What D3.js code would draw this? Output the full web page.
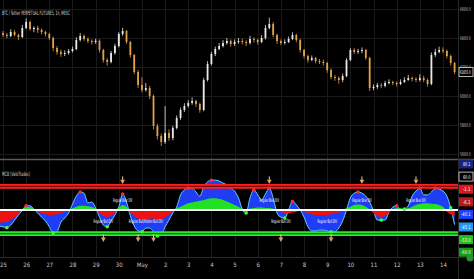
<!DOCTYPE html>
<html><head><meta charset="utf-8">
<script src="https://cdn.jsdelivr.net/npm/d3@7"></script>
<style>html,body{margin:0;padding:0;background:#000;overflow:hidden}svg{display:block}</style>
</head><body><svg id="c" width="474" height="279"></svg>
<script>
// ---------------- DATA ----------------
const title = "BTC / Tether PERPETUAL FUTURES, 1h, MEXC";
const indicatorName = "MCB (VeloTrades)";
const dayLabels = ["25","26","27","28","29","30","May","2","3","4","5","6","7","8","9","10","11","12","13","14"];
const priceTicks = [56000,58000,60000,62000,64000,66000];
const candleStart = Date.UTC(2024,3,24,20);
const candleHours = 4;
const firstOpen = 64300;
const closes = [64345,64207,64138,64414,64207,64069,64690,65103,64621,64700,
64552,64414,64276,64000,63310,63034,62896,62965,63103,63241,
63862,64138,63931,63793,63724,63800,63172,62483,62345,62965,
63448,64276,64483,63724,62828,61655,60759,60414,60552,60000,
57931,57241,56828,57448,57103,57793,58483,59034,59310,59517,
59655,59448,59034,61103,62207,62896,63241,63448,63655,63793,
63586,63724,63793,63724,63655,63931,63862,63724,64000,64690,
64966,64207,63793,63655,63724,63931,64207,63862,63172,62759,
62483,62621,62414,62345,62276,61793,61310,61241,61103,61379,
62483,63172,63034,63100,63172,62621,60552,60621,60759,60700,
60897,60966,60897,60828,60966,61103,61241,61172,61103,61241,
61103,60828,62828,63034,63172,63103,62759,62276,61655];
const highs = [64520,64480,64350,64600,64550,64300,64900,65350,65200,64800,
64850,64650,64500,64350,64100,63450,63200,63150,63250,63400,
64050,64350,64250,64050,63900,63950,63900,63250,62600,63100,
63600,64400,64700,64550,63800,62900,61800,61300,60900,60700,
60100,58100,57400,59300,57700,57950,58650,59200,59500,59700,
59900,59750,59550,61250,62400,63050,63400,63650,63850,64000,
63900,63900,64000,63950,63850,64150,64050,63950,64200,64900,
65400,65100,64300,63900,63900,64100,64400,64300,63950,63250,
62850,62800,62700,62550,62500,62350,61900,61450,61350,61550,
62600,63300,63300,63250,63350,63250,62700,60800,60900,60900,
61050,61150,61050,61000,61150,61300,61450,61350,61300,61500,
61400,61200,63000,63250,63400,63350,63200,62850,62350];
const lows = [64150,64050,63980,64050,64100,63850,64000,64600,64500,64400,
64350,64250,64100,63850,63100,62850,62700,62750,62850,63000,
63150,63750,63800,63650,63550,63600,63000,62300,62100,62250,
62850,63350,64150,63600,62650,61500,60550,60250,60300,59800,
57700,57000,56550,56700,56900,56950,57700,58350,58900,59200,
59400,59250,58850,58950,61000,62100,62750,63150,63350,63550,
63400,63450,63600,63550,63450,63550,63700,63550,63650,63900,
64600,64050,63600,63500,63550,63650,63850,63700,63000,62600,
62300,62400,62250,62200,62100,61600,61150,61050,60850,60950,
61300,62400,62900,62900,62950,62500,60350,60400,60500,60550,
60600,60800,60750,60650,60750,60900,61050,61000,60950,61000,
60950,60650,60750,62700,62950,62950,62600,62100,61500];
const wave = [-38,-40,-42,-36,-24,-12,-1,10,10,2,
-7,-17,-26,-40,-55,-52,-29,-19,-7,14,
33,43,40,17,19,5,-17,-36,-40,-26,
-12,7,38,19,-14,-38,-50,-52,-43,-43,
-52,-62,-60,-40,-24,-7,7,36,48,52,
52,43,33,55,67,71,71,69,64,60,
52,45,29,2,-7,29,48,36,24,38,
52,29,-7,-17,-19,0,21,12,0,-17,
-40,-50,-50,-48,-48,-50,-52,-52,-43,-26,
0,29,40,43,40,33,19,-2,-24,-24,
-24,-5,7,10,0,2,10,33,45,52,
36,36,43,52,50,45,33,5,-35];
const moneyFlow = [-30,-30,-28,-24,-18,-10,3,7,7,3,
-4,-8,-10,-12,-12,-10,-8,-4,-1,4,
8,10,10,9,7,3,-8,-14,-16,-14,
-6,6,12,8,-6,-14,-20,-22,-22,-20,
-20,-22,-22,-18,-12,-4,4,8,12,16,
18,20,22,24,26,28,28,26,24,20,
16,12,8,3,-3,3,5,6,6,5,
5,3,1,-4,-8,-8,-6,-4,-2,-4,
-8,-10,-12,-12,-12,-12,-10,-8,-6,-2,
4,8,12,13,12,8,2,-8,-14,-16,
-14,-6,2,4,4,3,4,8,12,14,
16,16,15,14,12,8,-4,-10,-14];
const redDots = [7,21,32,49,55,66,70,76,93,103,109,113];
const greenDots = [2,14,28,37,41,64,74,86,99,105,117];
const bearDivs = [32,70,94,108];
const bullDivs = [27,36,40,73,86];
const divLabels = [
  {i:32, kind:"bear", text:"Regular Bear DIV"},
  {i:27, kind:"bull", text:"Regular Bull DIV"},
  {i:38, kind:"bull", text:"Regular Bull/Hidden Bull DIV"},
  {i:70, kind:"bear", text:"Regular Bear DIV"},
  {i:73, kind:"bull", text:"Regular Bull DIV"},
  {i:85, kind:"bull", text:"Regular Bull DIV"},
  {i:94, kind:"bear", text:"Regular Bear DIV"},
  {i:108, kind:"bear", text:"Regular Bear DIV"}
];
const obLevels = [60,53];
const osLevels = [-53,-60];
const tagTexts = ["80.1","60.0","-1.1","-6.1","-40.1","-45.1","-53.0","-60.0"];
const tagColors = ["#1a237e","#000000","#d81b1b","#b71c1c","#1e40ff","#2196f3","#1fbf1f","#169c16"];

// ---------------- CHART ----------------
const svg = d3.select("#c");
const W = 474, H = 279, axisX = 458;
const indTop = 161, indBottom = 257;
const FONT = "'DejaVu Sans Condensed','Liberation Sans',sans-serif";

// squeeze a text horizontally to a target width using a transform
function squeeze(node, target, anchor){
  const len = node.getComputedTextLength();
  const s = Math.min(1, target/len);
  const x0 = +(node.getAttribute("x")||0), y0 = +(node.getAttribute("y")||0);
  node.setAttribute("x",0); node.setAttribute("y",0);
  node.setAttribute("text-anchor", anchor||"start");
  node.setAttribute("transform",`translate(${x0},${y0}) scale(${s},1)`);
}

svg.append("rect").attr("width",W).attr("height",H).attr("fill","#000");

const x = d3.scaleUtc()
  .domain([new Date(Date.UTC(2024,3,25)), new Date(Date.UTC(2024,4,14))])
  .range([3,443]);
const yP = d3.scaleLinear().domain([56000,66000]).range([154,9]);
const yI = d3.scaleLinear().domain([-60,60]).range([235.2,184.8]);
const tOf = i => new Date(candleStart + i*candleHours*3600e3);
const xi = i => x(tOf(i));

const defs = svg.append("defs");
defs.append("clipPath").attr("id","cm").append("rect").attr("x",0).attr("y",0).attr("width",axisX).attr("height",159);
defs.append("clipPath").attr("id","ci").append("rect").attr("x",0).attr("y",indTop).attr("width",axisX).attr("height",indBottom-indTop);

const days = d3.utcDay.range(x.domain()[0], d3.utcDay.offset(x.domain()[1],1));

// grid
const grid = svg.append("g").attr("stroke","#1a1a1a").attr("stroke-width",1);
grid.selectAll(".vg").data(days).join("line")
  .attr("x1",d=>Math.round(x(d))+0.5).attr("x2",d=>Math.round(x(d))+0.5)
  .attr("y1",0).attr("y2",indBottom);
grid.selectAll(".hg").data(priceTicks).join("line")
  .attr("x1",0).attr("x2",axisX).attr("y1",d=>Math.round(yP(d))+0.5).attr("y2",d=>Math.round(yP(d))+0.5);

// candles
const candles = closes.map((c,i)=>({i, o: i ? closes[i-1] : firstOpen, h: highs[i], l: lows[i], c}));
const gc = svg.append("g").attr("clip-path","url(#cm)");
const upC = "#e8e8e8", dnC = "#e3a047";
gc.selectAll(".wick").data(candles).join("line")
  .attr("x1",d=>xi(d.i)).attr("x2",d=>xi(d.i))
  .attr("y1",d=>yP(d.h)).attr("y2",d=>yP(d.l))
  .attr("stroke",d=>d.c>=d.o?upC:dnC).attr("stroke-width",0.8);
gc.selectAll(".body").data(candles).join("rect")
  .attr("x",d=>xi(d.i)-0.9).attr("width",1.8)
  .attr("y",d=>yP(Math.max(d.o,d.c)))
  .attr("height",d=>Math.max(0.8, Math.abs(yP(d.o)-yP(d.c))))
  .attr("fill",d=>d.c>=d.o?upC:dnC);

// title
svg.append("text").attr("x",2).attr("y",15).text(title)
  .attr("fill","#d0d0d0").attr("font-family",FONT).attr("font-size",6)
  .each(function(){ squeeze(this, 68); });

// separators
svg.append("line").attr("x1",0).attr("x2",W).attr("y1",159.5).attr("y2",159.5).attr("stroke","#5a5a5a").attr("stroke-width",1.5);
svg.append("line").attr("x1",0).attr("x2",W).attr("y1",indBottom+0.5).attr("y2",indBottom+0.5).attr("stroke","#2a2a2a");
svg.append("line").attr("x1",axisX+0.5).attr("x2",axisX+0.5).attr("y1",0).attr("y2",H).attr("stroke","#2a2a2a");

// indicator
const gi = svg.append("g").attr("clip-path","url(#ci)");
const idx = d3.range(wave.length);
const waveArea = d3.area().curve(d3.curveMonotoneX).x(i=>xi(i)).y0(yI(0)).y1(i=>yI(wave[i]));
gi.append("path").datum(idx).attr("d",waveArea).attr("fill","#1f3df5");
gi.append("path").datum(idx)
  .attr("d",d3.line().curve(d3.curveMonotoneX).x(i=>xi(i)).y(i=>yI(wave[i])))
  .attr("fill","none").attr("stroke","#5fd3ff").attr("stroke-width",1);
const mfPos = d3.area().curve(d3.curveMonotoneX).x(i=>xi(i)).y0(yI(0)).y1(i=>yI(Math.max(0,moneyFlow[i])));
const mfNeg = d3.area().curve(d3.curveMonotoneX).x(i=>xi(i)).y0(yI(0)).y1(i=>yI(Math.min(0,moneyFlow[i])));
gi.append("path").datum(idx).attr("d",mfPos).attr("fill","#22e022");
gi.append("path").datum(idx).attr("d",mfNeg).attr("fill","#ee1111");

// levels
gi.append("rect").attr("x",0).attr("width",axisX).attr("y",yI(obLevels[0])).attr("height",yI(obLevels[1])-yI(obLevels[0])).attr("fill","#5a0000");
gi.append("rect").attr("x",0).attr("width",axisX).attr("y",yI(osLevels[0])).attr("height",yI(osLevels[1])-yI(osLevels[0])).attr("fill","#0a4a0a");
gi.selectAll(".ob").data(obLevels).join("line")
  .attr("x1",0).attr("x2",axisX).attr("y1",d=>yI(d)).attr("y2",d=>yI(d))
  .attr("stroke","#ff2020").attr("stroke-width",1.8);
gi.selectAll(".os").data(osLevels).join("line")
  .attr("x1",0).attr("x2",axisX).attr("y1",d=>yI(d)).attr("y2",d=>yI(d))
  .attr("stroke","#2ee82e").attr("stroke-width",1.8);
gi.append("line").attr("x1",0).attr("x2",axisX).attr("y1",yI(0)).attr("y2",yI(0))
  .attr("stroke","#ffffff").attr("stroke-width",1.8);

// dots
gi.selectAll(".rd").data(redDots).join("circle")
  .attr("cx",i=>xi(i)).attr("cy",i=>yI(wave[i])).attr("r",1.8).attr("fill","#ff2a2a");
gi.selectAll(".gd").data(greenDots).join("circle")
  .attr("cx",i=>xi(i)).attr("cy",i=>yI(wave[i])).attr("r",1.8).attr("fill","#33ff33");

// divergence markers
function marker(g, i, yc){
  const cx = xi(i);
  g.append("line").attr("x1",cx).attr("x2",cx).attr("y1",yc-5).attr("y2",yc-1.5).attr("stroke","#f3cfa0").attr("stroke-width",1);
  g.append("path").attr("d",`M${cx-2.4},${yc-1.8}L${cx+2.4},${yc-1.8}L${cx},${yc+2.6}Z`).attr("fill","#e0a060");
}
bearDivs.forEach(i=>marker(gi,i,yI(68)));
bullDivs.forEach(i=>marker(gi,i,yI(-70)));

// divergence labels
gi.selectAll(".dl").data(divLabels).join("text")
  .attr("x",d=>xi(d.i)).attr("y",d=>d.kind==="bear"?yI(19):yI(-32))
  .text(d=>d.text)
  .attr("fill","#ffffff").attr("font-family",FONT).attr("font-size",5)
  .each(function(d){ squeeze(this, d.text.length*1.22, "middle"); });

// indicator name
svg.append("text").attr("x",2).attr("y",176).text(indicatorName)
  .attr("fill","#d0d0d0").attr("font-family",FONT).attr("font-size",6)
  .each(function(){ squeeze(this, 28); });

// price axis (labels right-aligned inside the axis strip)
const pa = svg.append("g").attr("transform",`translate(${axisX},0)`)
  .call(d3.axisRight(yP).tickValues(priceTicks).tickFormat(d3.format(".1f")).tickSize(0).tickPadding(12.5));
pa.select(".domain").remove();
pa.selectAll("text").attr("fill","#c8c8c8").attr("font-family",FONT).attr("font-size",5)
  .attr("dy",null).attr("y",1.8)
  .each(function(){ squeeze(this, 10.5, "end"); });

// current price tag
const last = closes[closes.length-1];
svg.append("rect").attr("x",axisX+1).attr("y",yP(last)-4.5).attr("width",14).attr("height",9)
  .attr("fill","#000").attr("stroke","#e0e0e0").attr("stroke-width",0.8);
svg.append("text").attr("x",axisX+12.5).attr("y",yP(last)+2).text(d3.format(".1f")(last))
  .attr("fill","#fff").attr("font-family",FONT).attr("font-size",5)
  .each(function(){ squeeze(this, 10.5, "end"); });

// indicator tags
const tg = svg.append("g");
tagTexts.forEach((t,k)=>{
  const yc = 164 + k*12.6;
  tg.append("rect").attr("x",axisX+1).attr("y",yc-4.5).attr("width",14).attr("height",9)
    .attr("fill",tagColors[k]).attr("stroke",k===1?"#e0e0e0":"none").attr("stroke-width",0.8);
  tg.append("text").attr("x",axisX+12.5).attr("y",yc+2).text(t)
    .attr("fill","#fff").attr("font-family",FONT).attr("font-size",5)
    .each(function(){ squeeze(this, t.length*1.9, "end"); });
});

// time axis
const ta = svg.append("g").attr("transform","translate(0,261)")
  .call(d3.axisBottom(x).tickValues(days).tickFormat((d,i)=>dayLabels[i]).tickSize(0).tickPadding(2));
ta.select(".domain").remove();
ta.selectAll("text").attr("fill","#c8c8c8").attr("font-family",FONT).attr("font-size",6);

// bottom-right icon
svg.append("circle").attr("cx",470).attr("cy",258).attr("r",3.5).attr("fill","#2f8f2f");
</script></body></html>
